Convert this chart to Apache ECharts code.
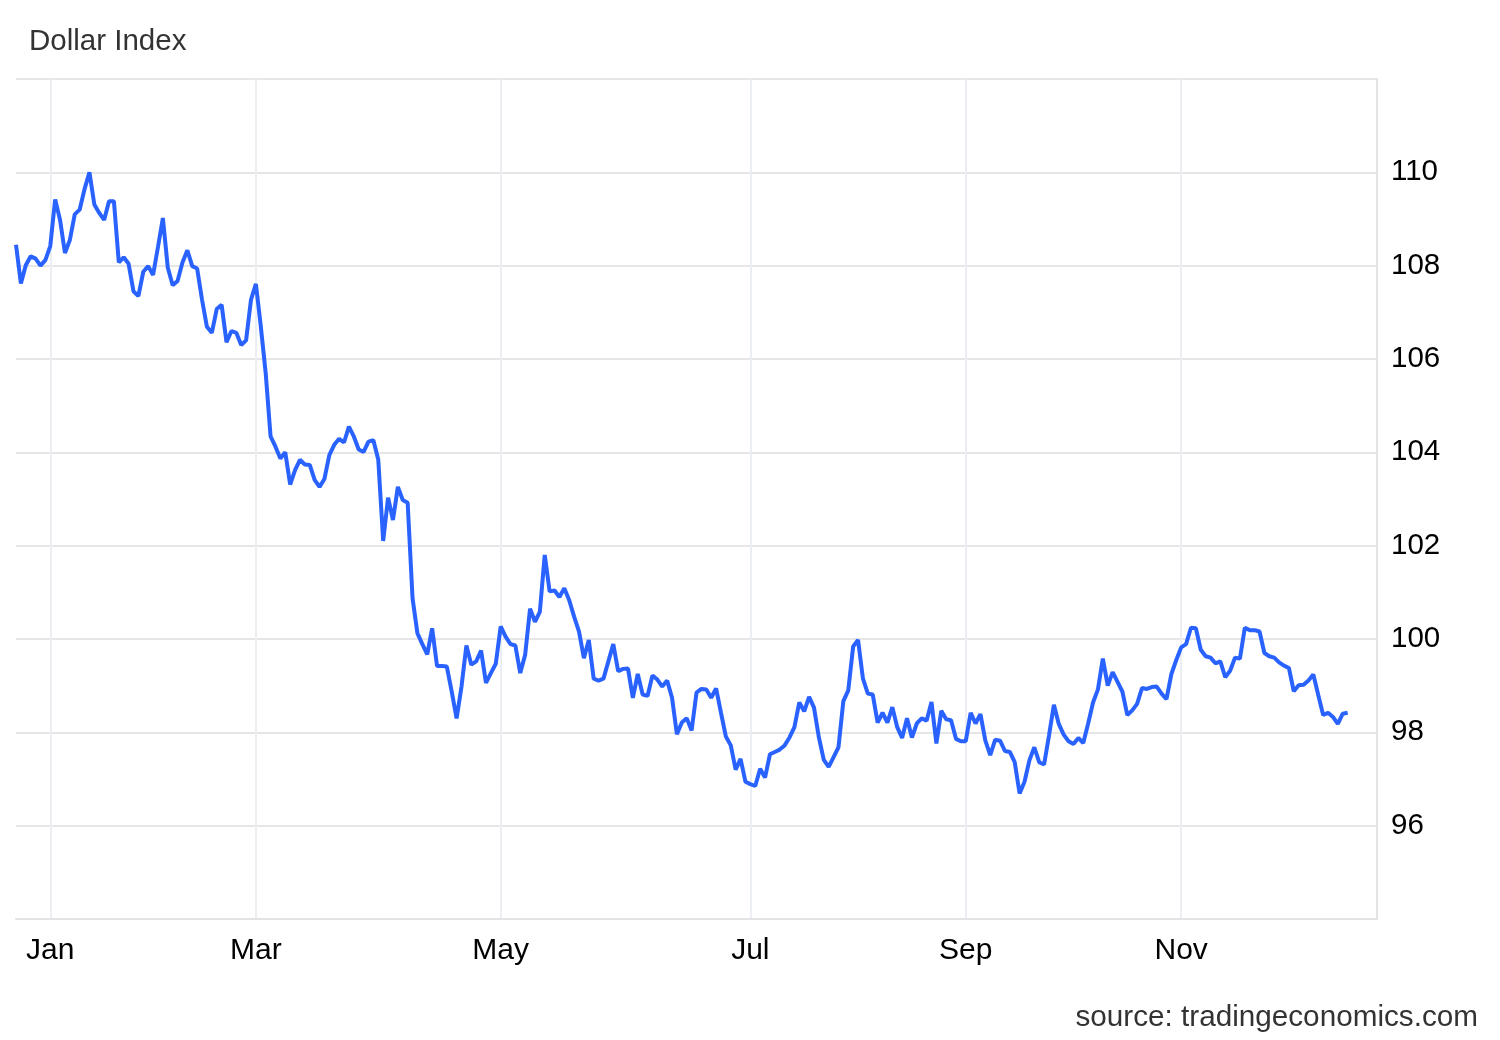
<!DOCTYPE html>
<html>
<head>
<meta charset="utf-8">
<script src="https://cdn.jsdelivr.net/npm/echarts@6/dist/echarts.min.js"></script>
<style>html,body{margin:0;padding:0;background:#fff}#c{width:1500px;height:1040px}</style>
</head>
<body>
<div id="c"></div>
<script>
// Dollar Index, one value per trading session (ordinal axis)
const values = [
108.45,107.62,108.01,108.20,108.15,108.00,108.12,108.42,109.42,108.98,
108.27,108.55,109.10,109.20,109.64,110.00,109.31,109.13,108.98,109.38,
109.38,108.07,108.18,108.04,107.45,107.35,107.87,107.99,107.80,108.40,
109.02,107.96,107.58,107.67,108.07,108.33,107.99,107.94,107.27,106.69,
106.56,107.07,107.16,106.36,106.60,106.56,106.30,106.40,107.27,107.61,
106.70,105.70,104.34,104.12,103.87,104.00,103.31,103.62,103.84,103.74,
103.73,103.41,103.26,103.43,103.94,104.16,104.29,104.21,104.55,104.34,
104.06,104.01,104.23,104.26,103.84,102.10,103.03,102.55,103.26,102.98,
102.92,100.87,100.12,99.89,99.67,100.23,99.42,99.42,99.41,98.87,
98.30,98.98,99.86,99.45,99.52,99.75,99.06,99.27,99.47,100.27,
100.05,99.89,99.86,99.27,99.66,100.65,100.37,100.58,101.80,101.02,
101.04,100.90,101.09,100.83,100.48,100.16,99.59,99.98,99.15,99.11,
99.15,99.52,99.89,99.31,99.36,99.37,98.74,99.25,98.81,98.78,
99.22,99.13,98.98,99.11,98.74,97.96,98.21,98.30,98.04,98.85,
98.93,98.92,98.74,98.94,98.42,97.91,97.72,97.20,97.43,96.94,
96.89,96.85,97.22,97.03,97.53,97.58,97.63,97.72,97.89,98.11,
98.64,98.45,98.76,98.53,97.89,97.41,97.26,97.47,97.68,98.67,
98.90,99.84,99.98,99.15,98.83,98.81,98.21,98.42,98.21,98.54,
98.11,97.88,98.30,97.89,98.19,98.30,98.25,98.65,97.76,98.46,
98.28,98.26,97.86,97.81,97.81,98.42,98.19,98.39,97.82,97.51,
97.84,97.82,97.60,97.58,97.36,96.69,96.94,97.40,97.68,97.36,
97.31,97.93,98.59,98.18,97.95,97.81,97.75,97.88,97.77,98.19,
98.64,98.92,99.58,99.00,99.29,99.08,98.87,98.37,98.47,98.61,
98.95,98.93,98.97,98.98,98.83,98.71,99.25,99.55,99.82,99.89,
100.24,100.23,99.77,99.63,99.60,99.48,99.52,99.18,99.32,99.60,
99.58,100.24,100.19,100.19,100.16,99.70,99.63,99.60,99.50,99.43,
99.38,98.88,99.01,99.02,99.11,99.24,98.80,98.37,98.42,98.33,
98.18,98.40,98.42
];
// month tick labels and the session index where each falls
const tickLabels = ['Jan','Mar','May','Jul','Sep','Nov'];
const tickIndex = [7, 49, 99, 150, 194, 238];
// ordinal categories (sessions), with a few empty ones after the last value
const sessionCount = 279;
const categories = [];
for (let i = 0; i < sessionCount; i++) categories.push('s' + i);
const yTicks = {min: 94, max: 112, step: 2};

const F = '"Liberation Sans", Arial, Helvetica, sans-serif';
const chart = echarts.init(document.getElementById('c'), null, {renderer: 'canvas'});
const isTick = (i) => tickIndex.indexOf(i) >= 0;
chart.setOption({
  animation: false,
  backgroundColor: '#ffffff',
  title: [
    {text: 'Dollar Index', left: 29, top: 27, padding: 0,
     textStyle: {fontFamily: F, fontSize: 29.5, fontWeight: 'normal', color: '#333333'}},
    {text: 'source: tradingeconomics.com', right: 22, top: 1003, padding: 0,
     textStyle: {fontFamily: F, fontSize: 29.7, fontWeight: 'normal', color: '#333333'}}
  ],
  grid: {left: 16, right: 123, top: 79, bottom: 121},
  xAxis: {
    type: 'category',
    boundaryGap: false,
    data: categories,
    axisLine: {show: true, lineStyle: {color: '#e3e3e3', width: 2}},
    axisTick: {show: false},
    axisLabel: {
      interval: (i) => isTick(i),
      formatter: (v, i) => { const k = tickIndex.indexOf(i); return k >= 0 ? tickLabels[k] : ''; },
      fontFamily: F, fontSize: 30, color: '#000000', margin: 17
    },
    splitLine: {show: true, interval: (i) => isTick(i), lineStyle: {color: '#ebeff4', width: 2}}
  },
  yAxis: {
    type: 'value',
    position: 'right',
    min: yTicks.min, max: yTicks.max, interval: yTicks.step,
    axisLine: {show: true, lineStyle: {color: '#e3e3e3', width: 2}},
    axisTick: {show: false},
    axisLabel: {showMinLabel: false, showMaxLabel: false, fontFamily: F, fontSize: 29.5, color: '#000000', margin: 14},
    splitLine: {show: true, lineStyle: {color: '#e6e6e6', width: 2}}
  },
  series: [{
    type: 'line',
    data: values,
    showSymbol: false,
    symbol: 'none',
    lineStyle: {color: '#2962ff', width: 4},
    itemStyle: {color: '#2962ff'}
  }]
});
</script>
</body>
</html>
